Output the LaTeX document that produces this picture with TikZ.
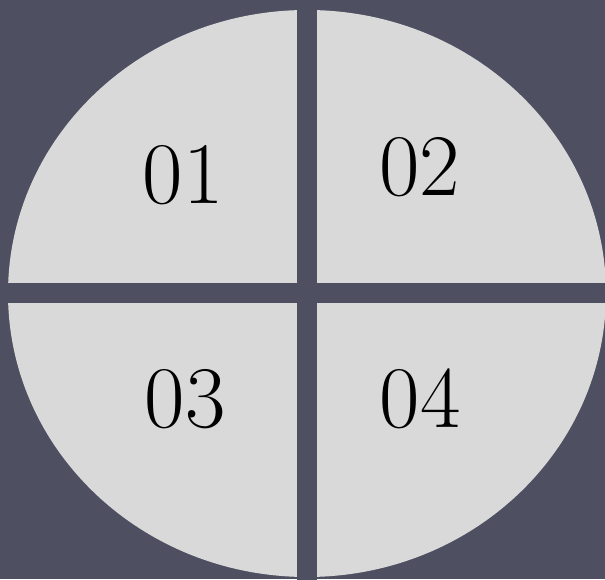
\documentclass[tikz,border=0pt]{standalone}
\usetikzlibrary{calc}

\begin{document}
\begin{tikzpicture}
\definecolor{slate}{RGB}{78,79,97}
\definecolor{disc}{RGB}{217,217,217}
\tikzset{quadlabel/.style={font=\fontsize{50}{50}\selectfont,inner sep=0pt}}

% Background, which also fixes the margins.
\fill[slate] (0,0) rectangle (12.1,11.58);
\useasboundingbox (0,0) rectangle (12.1,11.58);

\coordinate (C) at (6.14,5.71);

% Light disc, cut into quarters by a cross in the background colour.
\fill[disc] (C) ellipse [x radius=5.98,y radius=5.67];
\draw[slate,line width=0.4cm] ($(C)+(0,-6)$)--($(C)+(0,6)$);
\draw[slate,line width=0.4cm] ($(C)+(-6.2,0)$)--($(C)+(6.2,0)$);

\node[quadlabel] (q1) at (3.66,8.08) {01};
\node[quadlabel] (q2) at (8.39,8.24) {02};
\node[quadlabel] (q3) at (3.70,3.60) {03};
\node[quadlabel] (q4) at (8.40,3.60) {04};

\end{tikzpicture}
\end{document}
